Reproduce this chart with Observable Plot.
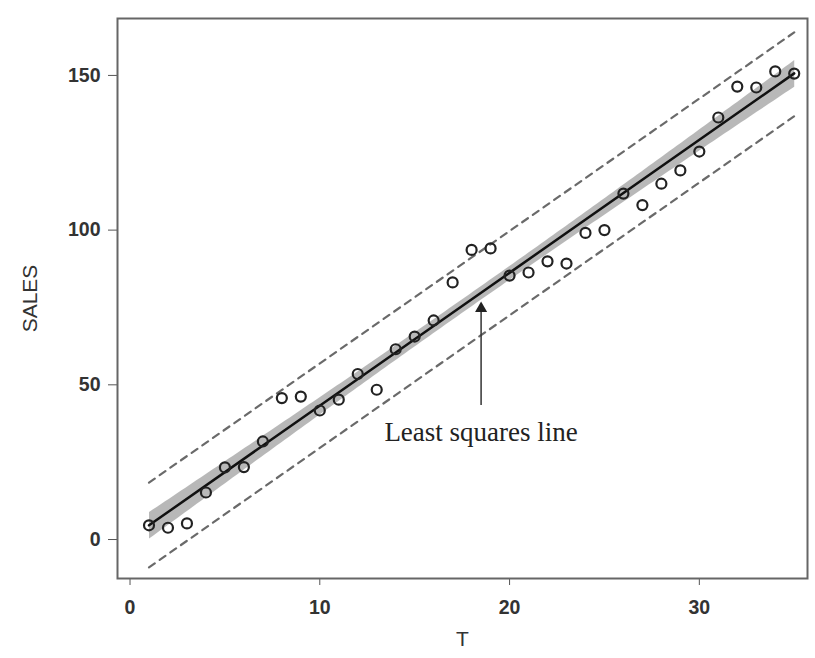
<!DOCTYPE html>
<html>
<head>
<meta charset="utf-8">
<script src="https://cdn.jsdelivr.net/npm/d3@7"></script>
<script src="https://cdn.jsdelivr.net/npm/@observablehq/plot@0.6"></script>
<style>
  html, body { margin: 0; padding: 0; background: #fff; }
  #chart { width: 815px; height: 658px; }
  #chart svg g[aria-label="x-axis tick label"],
  #chart svg g[aria-label="y-axis tick label"] { font-size: 19.5px !important; font-weight: bold; }
  #chart svg g[aria-label="x-axis label"],
  #chart svg g[aria-label="y-axis label"] { font-size: 21px !important; font-weight: normal; }
</style>
</head>
<body>
<div id="chart"></div>
<script>
// Time periods and observed sales
const T = [1,2,3,4,5,6,7,8,9,10,11,12,13,14,15,16,17,18,19,20,21,22,23,24,25,26,27,28,29,30,31,32,33,34,35];
const SALES = [4.6,3.8,5.2,15.2,23.3,23.4,31.7,45.7,46.2,41.7,45.2,53.5,48.4,61.5,65.6,70.8,83.1,93.6,94.1,85.3,86.3,89.9,89.2,99.1,100.0,111.8,108.1,115.0,119.3,125.4,136.4,146.4,146.1,151.3,150.6];

// Dashed prediction-interval lines, read at the two ends
const bandT = [1, 35];
const bandUpper = [18.4, 163.9];
const bandLower = [-9.0, 136.8];

// Annotation
const noteT = 18.5;
const noteText = "Least squares line";
const noteY = 34.6;
const arrowFrom = 43.5;
const arrowTo = 76;

const xTicks = [0, 10, 20, 30];
const yTicks = [0, 50, 100, 150];

const points = T.map((t, i) => ({T: t, SALES: SALES[i]}));
const upper = bandT.map((t, i) => ({T: t, v: bandUpper[i]}));
const lower = bandT.map((t, i) => ({T: t, v: bandLower[i]}));

const chart = Plot.plot({
  width: 815,
  height: 658,
  marginTop: 18,
  marginBottom: 80,
  marginLeft: 117,
  marginRight: 8,
  style: {color: "#333", fontFamily: "Liberation Sans, Arial, sans-serif", background: "#fff"},
  x: {domain: [-0.66, 35.7]},
  y: {domain: [-12.6, 168.4]},
  marks: [
    Plot.linearRegressionY(points, {x: "T", y: "SALES", stroke: "#111", strokeWidth: 2.5, fill: "#9a9a9a", fillOpacity: 0.7, ci: 0.95}),
    Plot.line(upper, {x: "T", y: "v", stroke: "#6a6a6a", strokeWidth: 2.2, strokeDasharray: "7,6"}),
    Plot.line(lower, {x: "T", y: "v", stroke: "#6a6a6a", strokeWidth: 2.2, strokeDasharray: "7,6"}),
    Plot.dot(points, {x: "T", y: "SALES", r: 5, stroke: "#222", strokeWidth: 2.2, fill: "none"}),
    Plot.link([{x: noteT, y1: arrowFrom, y2: arrowTo}], {x: "x", y1: "y1", y2: "y2", stroke: "#333", strokeWidth: 1.5}),
    Plot.dot([{x: noteT, y: arrowTo}], {x: "x", y: "y", symbol: "triangle", r: 4.5, fill: "#222", stroke: "none", dy: 4}),
    Plot.text([noteText], {x: noteT, y: noteY, text: d => d, fontFamily: "Liberation Serif, Times New Roman, serif", fontSize: 27, fill: "#222", textAnchor: "middle"}),
    Plot.axisX({ticks: xTicks, tickSize: 7, tickPadding: 15, fontSize: 19.5, fontWeight: "bold", stroke: "#555", label: "T", labelAnchor: "center", labelArrow: "none", labelOffset: 67}),
    Plot.axisY({ticks: yTicks, tickSize: 9, tickPadding: 8, fontSize: 19.5, fontWeight: "bold", stroke: "#555", label: "SALES", labelAnchor: "center", labelArrow: "none", labelOffset: 95}),
    Plot.frame({stroke: "#666", strokeWidth: 2})
  ]
});
document.getElementById("chart").appendChild(chart);
</script>
</body>
</html>
